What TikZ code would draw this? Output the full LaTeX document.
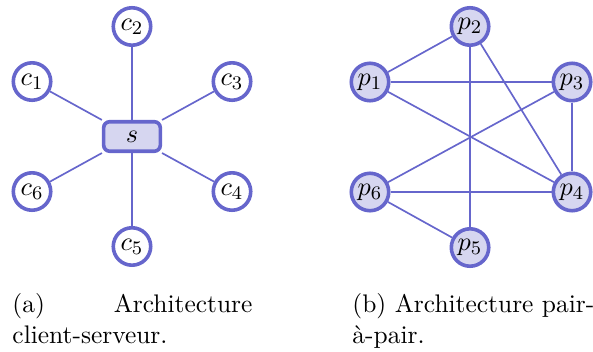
\documentclass[tikz,border=0pt]{standalone}
\usetikzlibrary{shapes,positioning}
\definecolor{archline}{RGB}{102,102,204}
\definecolor{archfill}{RGB}{214,214,240}
\tikzstyle{client} = [circle, draw=archline, line width=1.5pt, fill=white, minimum size=15.6pt, inner sep=0pt]
\tikzstyle{peer} = [client, fill=archfill]
\tikzstyle{server} = [rectangle, rounded corners=2.5pt, draw=archline, line width=1.5pt, fill=archfill, minimum width=23.6pt, minimum height=12.3pt]
\tikzstyle{link} = [draw=archline, line width=0.7pt]
\tikzstyle{legend} = [text width=100pt, align=left, inner sep=0pt, anchor=north west, font=\fontsize{10.6}{13}\selectfont]

\begin{document}
\begin{tikzpicture}[font=\fontsize{10.95}{13}\selectfont]
    \useasboundingbox (0,0) rectangle (8.685,5.141);
    % Client-serveur
    \node [server] (s) at (1.933,3.142) {$s$};
    \node [client] (c1) at (0.469,3.947) {$c_1$};
    \node [client] (c2) at (1.933,4.753) {$c_2$};
    \node [client] (c3) at (3.398,3.947) {$c_3$};
    \node [client] (c4) at (3.398,2.336) {$c_4$};
    \node [client] (c5) at (1.933,1.531) {$c_5$};
    \node [client] (c6) at (0.469,2.336) {$c_6$};

    \foreach \c in {c1,c2,c3,c4,c5,c6}
        \draw [link] (s) -- (\c);

    % Pair-a-pair
    \node [peer] (p1) at (5.419,3.940) {$p_1$};
    \node [peer] (p2) at (6.884,4.753) {$p_2$};
    \node [peer] (p3) at (8.378,3.940) {$p_3$};
    \node [peer] (p4) at (8.378,2.329) {$p_4$};
    \node [peer] (p5) at (6.884,1.516) {$p_5$};
    \node [peer] (p6) at (5.419,2.329) {$p_6$};

    \foreach \a/\b in {p1/p2,p1/p3,p1/p4,p2/p5,p2/p4,p3/p6,p3/p4,p6/p4,p6/p5}
        \draw [link] (\a) -- (\b);

    % Legendes
    \node [legend] (capa) at (0.176,0.850) {(a)\hfill\mbox{Architecture}\\ client-serveur.};
    \node [legend, text width=106pt] (capb) at (5.155,0.850) {(b) \mbox{Architecture} pair-\\ à-pair.};
\end{tikzpicture}
\end{document}
